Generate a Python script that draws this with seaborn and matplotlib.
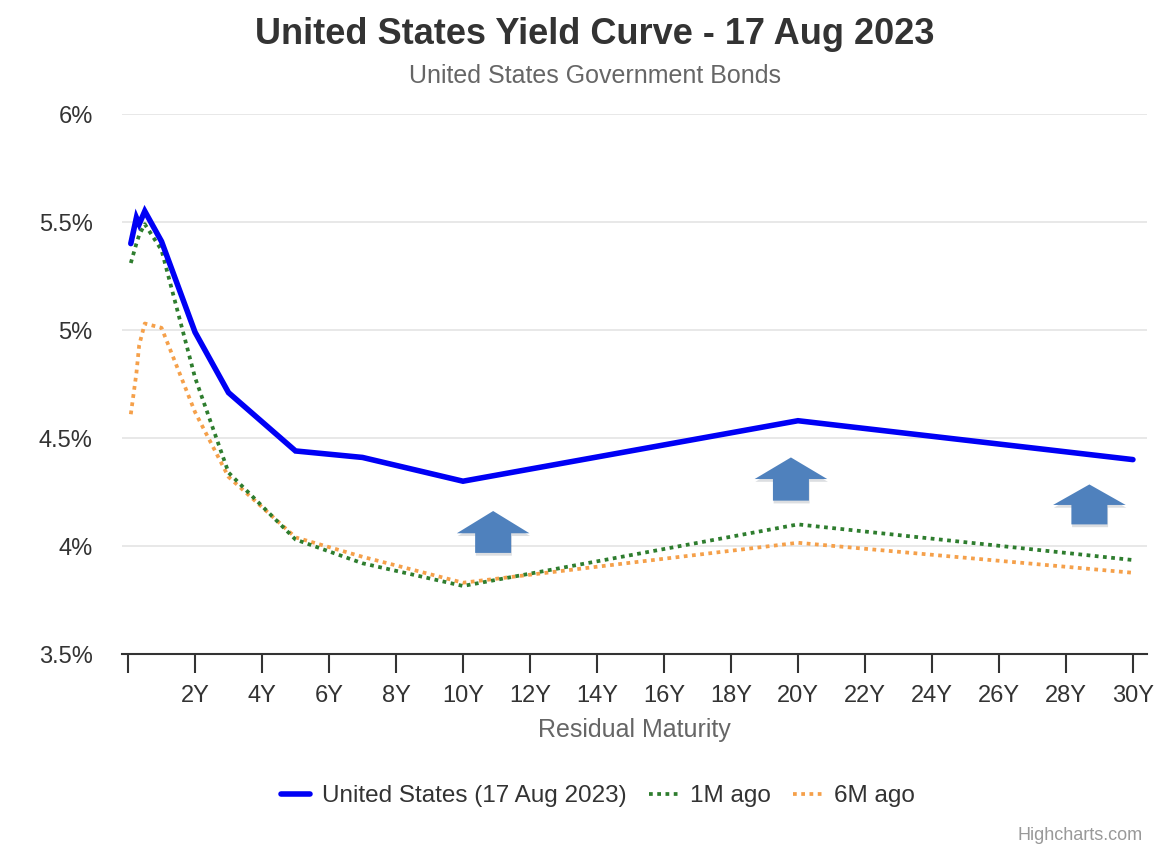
import numpy as np
import pandas as pd
import seaborn as sns
from matplotlib import pyplot as plt
from matplotlib.patches import Polygon
from matplotlib.lines import Line2D
from matplotlib import patheffects as pe
from matplotlib.ticker import FuncFormatter

# maturities in years (1M, 3M, 4M, 6M, 1Y ... 30Y)
maturity = [0.083, 0.25, 0.333, 0.5, 1, 2, 3, 5, 7, 10, 20, 30]
yield_now = [5.40, 5.52, 5.49, 5.55, 5.41, 4.99, 4.71, 4.44, 4.41, 4.30, 4.58, 4.40]
yield_1m = [5.31, 5.40, 5.44, 5.49, 5.37, 4.78, 4.34, 4.03, 3.92, 3.815, 4.10, 3.935]
yield_6m = [4.61, 4.80, 4.93, 5.03, 5.01, 4.62, 4.32, 4.04, 3.95, 3.83, 4.015, 3.876]

series_names = ["United States (17 Aug 2023)", "1M ago", "6M ago"]
x_ticks = list(range(0, 31, 2))
x_tick_labels = [""] + ["{}Y".format(t) for t in x_ticks[1:]]
y_ticks = [3.5, 4, 4.5, 5, 5.5, 6]

# block arrows: centre x (years), bottom, head base, tip (yield %)
arrows = [(10.90, 3.968, 4.059, 4.162),
          (19.79, 4.21, 4.31, 4.41),
          (28.70, 4.10, 4.19, 4.285)]

sns.set_style("white")
plt.rcParams['font.family'] = ['Liberation Sans', 'DejaVu Sans']

fig = plt.figure(figsize=(11.7, 8.68), dpi=100)
ax = fig.add_axes([122 / 1170, 1 - 654 / 868, (1147 - 122) / 1170, (654 - 114) / 868])

df = pd.DataFrame({"maturity": maturity, "now": yield_now, "m1": yield_1m, "m6": yield_6m})

# grid lines first
for y in y_ticks[1:]:
    ax.axhline(y, color="#e6e6e6", lw=1.3, zorder=0)

colors = ["#0000f5", "#2e7d2e", "#f5a04a"]
dots = (0, (1, 1.2))
sns.lineplot(ax=ax, data=df, x="maturity", y="m6", color=colors[2], lw=2.7,
             linestyle=dots, zorder=3)
sns.lineplot(ax=ax, data=df, x="maturity", y="m1", color=colors[1], lw=2.7,
             linestyle=dots, zorder=4)
sns.lineplot(ax=ax, data=df, x="maturity", y="now", color=colors[0], lw=4.0,
             solid_joinstyle="miter", zorder=5)

# arrows
sw, hw = 18 / 33.5, 36.3 / 33.5
for cx, yb, yh, yt in arrows:
    pts = [(cx - sw, yb), (cx + sw, yb), (cx + sw, yh), (cx + hw, yh), (cx, yt),
           (cx - hw, yh), (cx - sw, yh)]
    poly = Polygon(pts, closed=True, facecolor="#4F81BD", edgecolor="none", zorder=6,
                   path_effects=[pe.SimplePatchShadow(offset=(0.5, -2), alpha=0.15), pe.Normal()])
    ax.add_patch(poly)

ax.set_xlim(-0.18, 30.42)
ax.set_ylim(3.5, 6)
ax.set_xticks(x_ticks)
ax.set_xticklabels(x_tick_labels)
ax.set_yticks(y_ticks)
ax.yaxis.set_major_formatter(FuncFormatter(lambda v, p: "{:g}%".format(v)))
ax.tick_params(axis="y", length=0, pad=21, labelsize=17, labelcolor="#333333")
ax.tick_params(axis="x", length=14, width=1.5, color="#333333", direction="out",
               pad=8, labelsize=17, labelcolor="#333333", bottom=True)
for side in ["top", "right", "left"]:
    ax.spines[side].set_visible(False)
ax.spines["bottom"].set_color("#333333")
ax.spines["bottom"].set_linewidth(1.5)
ax.set_xlabel("Residual Maturity", fontsize=18, color="#666666", labelpad=8)
ax.set_ylabel("")

fig.text(595 / 1170, 1 - 34 / 868, "United States Yield Curve - 17 Aug 2023",
         ha="center", va="center", fontsize=26, fontweight="bold", color="#333333")
fig.text(595 / 1170, 1 - 76 / 868, "United States Government Bonds",
         ha="center", va="center", fontsize=18, color="#666666")
fig.text(1143 / 1170, 1 - 835 / 868, "Highcharts.com", ha="right", va="center",
         fontsize=13, color="#999999")

handles = [Line2D([], [], color=colors[0], lw=4.0),
           Line2D([], [], color=colors[1], lw=2.7, linestyle=dots),
           Line2D([], [], color=colors[2], lw=2.7, linestyle=dots)]
fig.legend(handles, series_names, loc="center", bbox_to_anchor=(598 / 1170, 1 - 796 / 868),
           ncol=3, frameon=False, fontsize=17.5, handlelength=1.2, handletextpad=0.5,
           columnspacing=0.9, labelcolor="#333333")

fig.savefig("out.png", dpi=100)
